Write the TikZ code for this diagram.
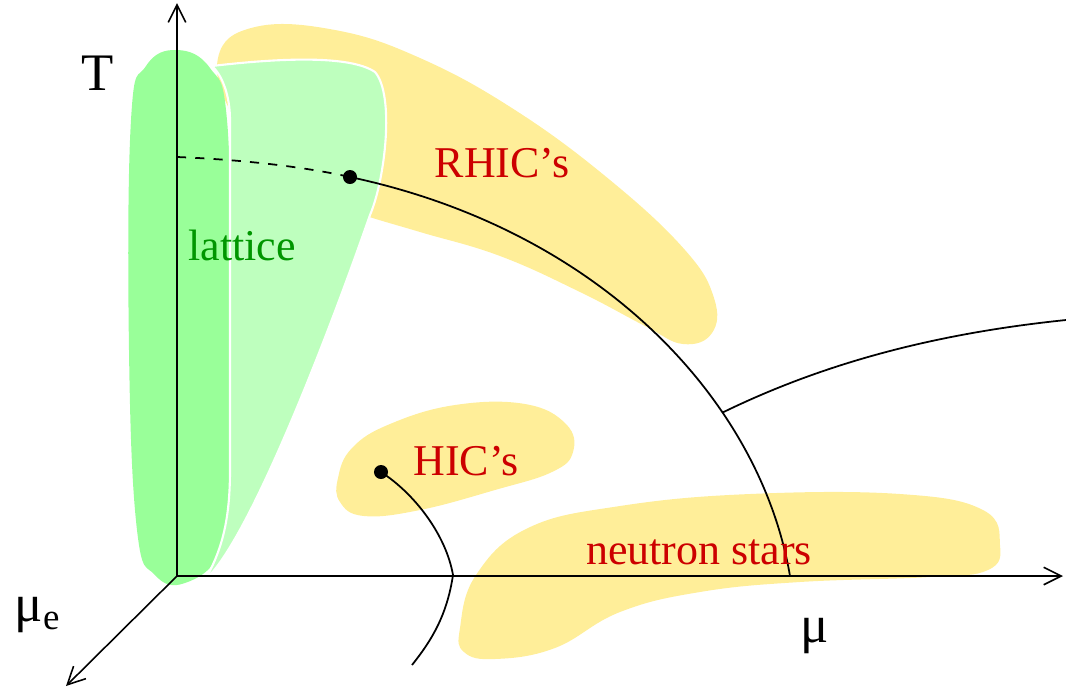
\documentclass[tikz,border=0pt]{standalone}
\usepackage{fontspec}
\setmainfont{Liberation Serif}
\usetikzlibrary{arrows.meta, positioning}

\definecolor{latdark}{RGB}{153,255,153}
\definecolor{latlight}{RGB}{190,255,190}
\definecolor{expyel}{RGB}{255,238,153}
\definecolor{labred}{RGB}{204,0,0}
\definecolor{labgreen}{RGB}{0,150,0}

\begin{document}
\begin{tikzpicture}[
  x=0.01cm, y=-0.01cm,
  every node/.style={font=\fontsize{12.5}{14}\selectfont},
  axis/.style={-{Straight Barb[length=5pt, width=5pt]}, line width=0.45pt},
  curve/.style={line width=0.5pt},
  region/.style={smooth cycle, tension=0.7},
  dot/.style={circle, fill=black, inner sep=0pt, minimum size=0.14cm},
  axlabel/.style={font=\fontsize{15}{17}\selectfont},
  explabel/.style={text=labred}
]
\useasboundingbox (0,0) rectangle (1066,687);

% Experiment regions
\fill[expyel] plot[region] coordinates {(218,58) (255,27) (335,30) (420,58) (515,110) (610,180) (685,250) (714,298) (712,333) (683,344) (645,326) (580,292) (500,256) (420,232) (360,214) (290,190) (235,120)};
\fill[expyel] plot[region] coordinates {(338,478) (352,448) (390,424) (455,405) (525,404) (566,424) (573,452) (552,472) (495,490) (420,510) (364,516) (340,502)};
\fill[expyel] plot[region] coordinates {(460,628) (476,575) (528,528) (620,506) (750,494) (900,494) (983,510) (1000,545) (988,570) (930,577) (800,582) (700,592) (620,612) (555,648) (495,659) (464,652)};

% Lattice regions
\fill[latdark] plot[region] coordinates {(177,50) (210,68) (227,120) (231,300) (230,480) (220,552) (185,583) (155,575) (137,530) (129,350) (131,120) (146,66)};
\filldraw[fill=latlight, draw=white, line width=0.6pt] (212,66) .. controls (280,58) and (350,55) .. (375,72)
  .. controls (395,95) and (385,180) .. (370,215)
  .. controls (330,330) and (250,540) .. (205,580)
  .. controls (222,550) and (230,520) .. (230,470)
  -- (230,120) .. controls (230,95) and (222,75) .. (212,66) -- cycle;

% Axes
\coordinate (O) at (177,576);
\coordinate (Tend) at (177,3);
\coordinate (muend) at (1063,576);
\coordinate (meend) at (66,686);
\draw[axis] (O) -- (Tend);
\draw[axis] (O) -- (muend);
\draw[axis] (O) -- (meend);
\node[axlabel] (Tlab) at (98,73) {T};
\node[axlabel] (mulab) at (815,636) {μ};
\node[axlabel] (melab) at (38,615) {μ\textsubscript{e}};

% Phase boundaries
\node[dot] (cep) at (350,177) {};
\node[dot] (hcep) at (381,472) {};
\coordinate (Tc) at (177,157);
\coordinate (muc) at (790,576);
\coordinate (right) at (1066,320);
\coordinate (cross) at (453,575);
\coordinate (bottom) at (412,665);
\draw[curve, dash pattern=on 2.6pt off 2.6pt] (Tc) .. controls (250,160) and (310,168) .. (cep.center);
\draw[curve] (cep.center) .. controls (600,230) and (760,400) .. (muc)
  node[coordinate, pos=0.68] (junc) {};
\draw[curve] (junc) .. controls (820,365) and (930,334) .. (right);
\draw[curve] (hcep.center) .. controls (415,494) and (446,535) .. (cross)
  .. controls (447,615) and (432,640) .. (bottom);

% Labels
\node[text=labgreen] (lat) at (242,245) {lattice};
\node[explabel] (rhic) at (502,163) {RHIC’s};
\node[explabel] (hic) at (466,461) {HIC’s};
\node[explabel] (ns) at (699,552) {neutron stars};

\end{tikzpicture}
\end{document}
